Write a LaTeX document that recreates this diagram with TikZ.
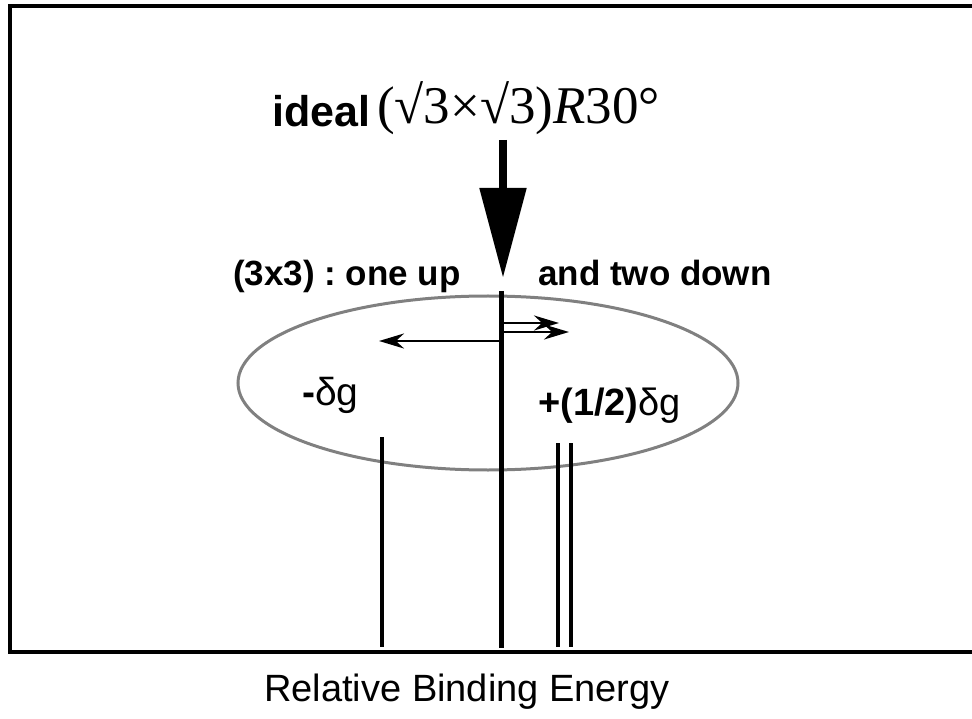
\documentclass[tikz,border=0pt]{standalone}
\usepackage{fontspec}
\setmainfont{Liberation Sans}
\newfontfamily\timesfont{Liberation Serif}
\usepackage{tikz}
\usetikzlibrary{arrows.meta,positioning,shapes.geometric}
\frenchspacing

\begin{document}
\begin{tikzpicture}[
  x=1pt, y=-1pt,
  frame/.style={line width=4pt},
  peak/.style={line width=4.5pt},
  shiftarrow/.style={line width=2.8pt, -{Stealth[length=25pt,width=15pt]}},
  lbl/.style={inner sep=0pt, anchor=base west, font=\fontsize{35}{40}\selectfont\bfseries},
  sym/.style={inner sep=0pt, anchor=base west, font=\fontsize{39}{44}\selectfont}]
\useasboundingbox (0,0) rectangle (972,719);
% frame
\draw[frame] (972,6) -- (10,6) -- (10,652) -- (972,652);
% title
\node[inner sep=0pt, anchor=base west, font=\fontsize{43}{50}\selectfont\bfseries] (ideal) at (272,127) {ideal};
\node[inner sep=0pt, anchor=base west, font=\fontsize{53}{58}\selectfont\timesfont] (cell) at (377,124) {(√3×√3)\textit{R}30°};
\coordinate (tail) at (503,140);
\coordinate (tip) at (503,278);
\draw[line width=8.5pt, -{Triangle[length=90pt,width=45pt]}] (tail) -- (tip);
% labels
\node[lbl] (up) at (233,286) {(3x3) : one up};
\node[lbl] (down) at (538,286) {and two down};
\node[inner sep=0pt, draw=gray, line width=3pt, ellipse, minimum width=500pt, minimum height=174pt] (ring) at (488,383) {};
% lines
\coordinate (c0) at (501,291);
\coordinate (c1) at (501,648);
\draw[peak, line width=5pt] (c0) -- (c1);
\coordinate (l0) at (382,437);
\coordinate (l1) at (382,647);
\draw[peak] (l0) -- (l1);
\foreach \n/\x in {r/558, s/571} {
  \coordinate (\n0) at (\x,443);
  \coordinate (\n1) at (\x,647);
  \draw[peak] (\n0) -- (\n1);
}
% shifts
\coordinate (m) at (501,341);
\coordinate (mL) at (379,341);
\draw[shiftarrow] (m) -- (mL);
\coordinate (p) at (501,323);
\coordinate (pR) at (559,323);
\draw[shiftarrow] (p) -- (pR);
\coordinate (q) at (501,332);
\coordinate (qR) at (569,332);
\draw[shiftarrow] (q) -- (qR);
\node[sym] (minus) at (302,405) {\textbf{-}δg};
\node[sym, font=\fontsize{38}{44}\selectfont] (plus) at (538,415) {\textbf{+(1/2)}δg};
% axis
\node[inner sep=0pt, anchor=base, font=\fontsize{38}{44}\selectfont] (axis) at (467,701) {Relative Binding Energy};
\end{tikzpicture}
\end{document}
